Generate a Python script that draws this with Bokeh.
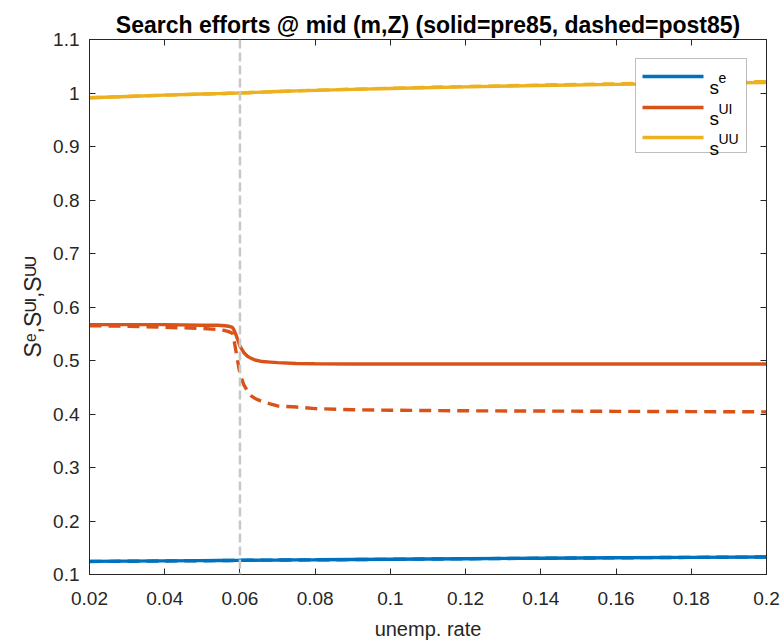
from bokeh.plotting import figure
from bokeh.models import (Range1d, FixedTicker, LinearAxis, CustomJSTickFormatter,
                          Span, Label, BoxAnnotation, Arrow)
from bokeh.embed import file_html
from bokeh.resources import INLINE

# ---------------- data ----------------
urate = [0.020, 0.030, 0.040, 0.050, 0.054, 0.056, 0.057, 0.058, 0.0585, 0.059,
         0.0595, 0.060, 0.061, 0.062, 0.063, 0.064, 0.066, 0.068, 0.070, 0.075,
         0.080, 0.090, 0.100, 0.120, 0.140, 0.160, 0.180, 0.200]

se_pre = [0.1245, 0.1250, 0.1255, 0.1260, 0.1262, 0.1263, 0.1263, 0.1264, 0.1264, 0.1264,
          0.1264, 0.1265, 0.1265, 0.1266, 0.1266, 0.1267, 0.1268, 0.1269, 0.1270, 0.1273,
          0.1275, 0.1280, 0.1285, 0.1295, 0.1305, 0.1313, 0.1320, 0.1327]
se_post = [0.1243, 0.1248, 0.1253, 0.1258, 0.1260, 0.1261, 0.1261, 0.1262, 0.1262, 0.1262,
           0.1262, 0.1263, 0.1264, 0.1265, 0.1266, 0.1267, 0.1268, 0.1269, 0.1270, 0.1272,
           0.1274, 0.1279, 0.1284, 0.1294, 0.1304, 0.1312, 0.1320, 0.1327]

sui_pre = [0.567, 0.567, 0.567, 0.566, 0.566, 0.565, 0.564, 0.562, 0.556, 0.547,
           0.537, 0.527, 0.515, 0.508, 0.504, 0.501, 0.498, 0.497, 0.496, 0.4945,
           0.494, 0.4935, 0.4935, 0.4935, 0.4935, 0.4935, 0.4935, 0.4935]
sui_post = [0.565, 0.564, 0.562, 0.560, 0.558, 0.556, 0.554, 0.551, 0.535, 0.515,
            0.495, 0.475, 0.455, 0.443, 0.434, 0.429, 0.423, 0.419, 0.415, 0.413,
            0.410, 0.408, 0.407, 0.406, 0.4055, 0.405, 0.4045, 0.404]

suu_pre = [0.991, 0.9935, 0.996, 0.998, 0.9988, 0.9992, 0.9994, 0.9996, 0.9997, 0.9998,
           0.9999, 1.000, 1.0003, 1.0006, 1.0009, 1.0012, 1.0017, 1.0022, 1.0027, 1.0039,
           1.005, 1.0068, 1.0085, 1.0115, 1.014, 1.0162, 1.018, 1.0197]
suu_post = [0.991, 0.9935, 0.996, 0.998, 0.9988, 0.9992, 0.9994, 0.9996, 0.9997, 0.9998,
            0.9999, 1.000, 1.0003, 1.0006, 1.0009, 1.0012, 1.0017, 1.0022, 1.0027, 1.0040,
            1.0052, 1.0071, 1.0089, 1.0121, 1.0148, 1.0172, 1.0193, 1.0212]

regime_break = 0.06

x_ticks = [0.02, 0.04, 0.06, 0.08, 0.10, 0.12, 0.14, 0.16, 0.18, 0.20]
x_tick_labels = ["0.02", "0.04", "0.06", "0.08", "0.1", "0.12", "0.14", "0.16", "0.18", "0.2"]
y_ticks = [0.1, 0.2, 0.3, 0.4, 0.5, 0.6, 0.7, 0.8, 0.9, 1.0, 1.1]
y_tick_labels = ["0.1", "0.2", "0.3", "0.4", "0.5", "0.6", "0.7", "0.8", "0.9", "1", "1.1"]

series_names = ["e", "UI", "UU"]
series_colors = ["#0072BD", "#D95319", "#EDB120"]

# ---------------- styling ----------------
FONT = "Liberation Sans"
AX = "#262626"
W, H = 783, 642
LEFT, RIGHT, TOP, BOTTOM = 89, 17, 39, 67

p = figure(width=W, height=H, output_backend="svg", toolbar_location=None,
           x_range=Range1d(0.02, 0.2), y_range=Range1d(0.1, 1.1),
           min_border_left=LEFT, min_border_right=RIGHT,
           min_border_top=TOP, min_border_bottom=BOTTOM,
           title="Search efforts @ mid (m,Z) (solid=pre85, dashed=post85)")
p.background_fill_color = "white"
p.border_fill_color = "white"
p.outline_line_color = AX
p.outline_line_width = 1
p.grid.visible = False

p.title.text_font = FONT
p.title.text_font_style = "bold"
p.title.text_font_size = "23px"
p.title.text_color = "black"
p.title.align = "center"
p.title.standoff = 4

xa = p.xaxis[0]
xa.ticker = FixedTicker(ticks=x_ticks)
xa.major_label_overrides = {t: s for t, s in zip(x_ticks, x_tick_labels)}
xa.axis_label = "unemp. rate"

ya = p.yaxis[0]
ya.ticker = FixedTicker(ticks=y_ticks)
ya.major_label_overrides = {t: s for t, s in zip(y_ticks, y_tick_labels)}
ya.axis_label = "S\u1d49,S\u1d41\u1d35,S\u1d41\u1d41"

for ax in (xa, ya):
    ax.axis_line_color = AX
    ax.major_tick_line_color = AX
    ax.major_tick_in = 6
    ax.major_tick_out = 0
    ax.minor_tick_line_color = None
    ax.major_label_text_font = FONT
    ax.major_label_text_font_size = "19px"
    ax.major_label_text_color = AX
    ax.axis_label_text_font = FONT
    ax.axis_label_text_font_style = "normal"
    ax.axis_label_text_color = AX
xa.axis_label_text_font_size = "20px"
ya.axis_label_text_font_size = "23px"
xa.major_label_standoff = 17
xa.axis_label_standoff = 10
ya.major_label_standoff = 10
ya.axis_label_standoff = 4

blank = CustomJSTickFormatter(code="return ''")
top_ax = LinearAxis(ticker=FixedTicker(ticks=x_ticks), formatter=blank)
right_ax = LinearAxis(ticker=FixedTicker(ticks=y_ticks), formatter=blank)
for ax in (top_ax, right_ax):
    ax.axis_line_color = AX
    ax.major_tick_line_color = AX
    ax.major_tick_in = 6
    ax.major_tick_out = 0
    ax.minor_tick_line_color = None
    ax.major_label_standoff = 0
p.add_layout(top_ax, "above")
p.add_layout(right_ax, "right")

# regime break marker
p.add_layout(Span(location=regime_break, dimension="height", line_color="#C8C8C8",
                  line_width=2.5, line_dash="9 4"))

# ---------------- curves ----------------
LW = 3.4
pre = [se_pre, sui_pre, suu_pre]
post = [se_post, sui_post, suu_post]
for ys, c in zip(pre, series_colors):
    p.line(urate, ys, line_color=c, line_width=LW)
for ys, c in zip(post, series_colors):
    p.line(urate, ys, line_color=c, line_width=LW, line_dash="12 7")

# ---------------- legend ----------------
# screen units: x from frame left, y from frame bottom (upward)
fl = LEFT
fb = H - BOTTOM
box_l, box_r, box_t, box_b = 635, 746, 59, 153
p.add_layout(BoxAnnotation(left=box_l - fl, right=box_r - fl,
                           top=fb - box_t, bottom=fb - box_b,
                           left_units="screen", right_units="screen",
                           top_units="screen", bottom_units="screen",
                           fill_color="white", fill_alpha=1.0,
                           line_color=AX, line_width=1, level="overlay"))
row_y = [77, 108, 138]
for name, c, ry in zip(series_names, series_colors, row_y):
    p.add_layout(Arrow(x_start=642 - fl, y_start=fb - ry, x_end=703 - fl, y_end=fb - ry,
                       start_units="screen", end_units="screen", end=None,
                       line_color=c, line_width=LW, level="overlay"))
    p.add_layout(Label(x=709 - fl, y=fb - (ry + 11), x_units="screen", y_units="screen",
                       text="s", text_font=FONT, text_font_size="19px",
                       text_color="black", text_baseline="alphabetic", level="overlay"))
    p.add_layout(Label(x=718 - fl, y=fb - (ry + 1), x_units="screen", y_units="screen",
                       text=name, text_font=FONT, text_font_size="14px",
                       text_color="black", text_baseline="alphabetic", level="overlay"))

open("out.html", "w").write(file_html(p, INLINE))
